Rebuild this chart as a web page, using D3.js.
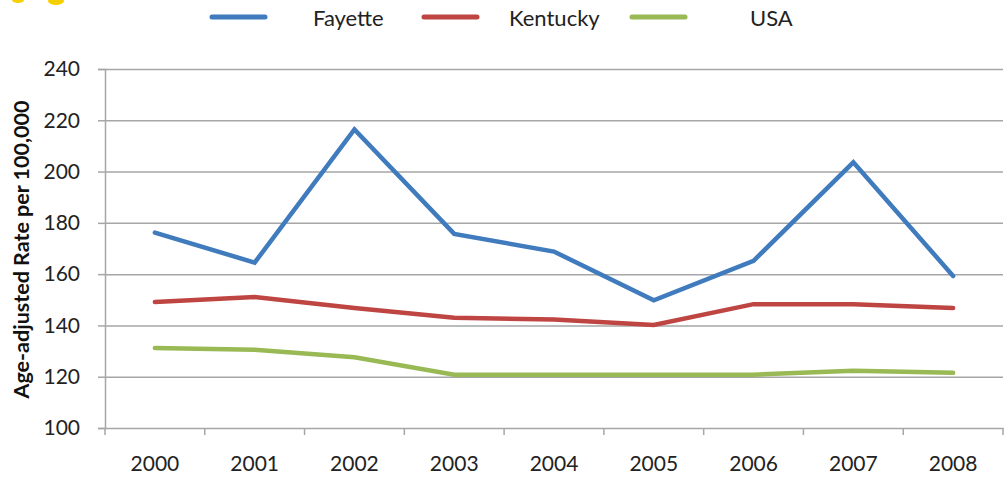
<!DOCTYPE html>
<html><head><meta charset="utf-8">
<script src="https://cdn.jsdelivr.net/npm/d3@7"></script>
<style>body{margin:0;background:#fff}svg{display:block}</style>
</head><body>
<script>
const years = ["2000","2001","2002","2003","2004","2005","2006","2007","2008"];
const fayette = [176.2, 164.5, 216.4, 175.7, 168.8, 149.8, 165.2, 203.6, 159.3];
const kentucky = [149.1, 151.1, 146.8, 143.0, 142.3, 140.2, 148.3, 148.3, 146.8];
const usa = [131.2, 130.5, 127.6, 120.8, 120.8, 120.8, 120.8, 122.3, 121.5];
const yTicks = [100,120,140,160,180,200,220,240];
const seriesNames = ["Fayette","Kentucky","USA"];
const colors = ["#3f7bbd","#be4542","#98b954"];

const W=1008,H=479;
const svg=d3.select("body").append("svg").attr("width",W).attr("height",H);
const font="Lato, 'Open Sans', sans-serif";
const L=105,R=1003,T=69,B=428;
const x=d3.scaleBand().domain(years).range([L,R]);
const y=d3.scaleLinear().domain([100,240]).range([B,T]);

// decoration top-left
svg.append("ellipse").attr("cx",18).attr("cy",0).attr("rx",6).attr("ry",3).attr("fill","#f5d000");
svg.append("ellipse").attr("cx",56).attr("cy",1).attr("rx",8).attr("ry",4).attr("fill","#f5d000");

// gridlines
svg.append("g").selectAll("line").data(yTicks.slice(1)).join("line")
  .attr("x1",L).attr("x2",R).attr("y1",d=>y(d)+0.5).attr("y2",d=>y(d)+0.5)
  .attr("stroke","#a6a6a6").attr("stroke-width",1.5);

// y axis
const ya=svg.append("g").attr("transform",`translate(${L},0)`)
  .call(d3.axisLeft(y).tickValues(yTicks).tickSize(7).tickPadding(18));
ya.select(".domain").attr("stroke","#a6a6a6").attr("stroke-width",1.5);
ya.selectAll(".tick line").attr("stroke","#a6a6a6").attr("stroke-width",1.5);
ya.selectAll("text").attr("font-family",font).attr("font-size",21).attr("fill","#222");

// x axis
const xa=svg.append("g").attr("transform",`translate(0,${B})`)
  .call(d3.axisBottom(x).tickSize(0).tickPadding(28));
xa.select(".domain").attr("stroke","#a6a6a6").attr("stroke-width",1.5);
xa.selectAll("text").attr("font-family",font).attr("font-size",21).attr("fill","#222");
svg.append("g").selectAll("line").data(years.concat(["end"])).join("line")
  .attr("x1",(d,i)=>L+i*x.step()).attr("x2",(d,i)=>L+i*x.step())
  .attr("y1",B).attr("y2",B+7).attr("stroke","#a6a6a6").attr("stroke-width",1.5);

// y title
svg.append("text").attr("transform",`translate(29,${(T+B)/2+1}) rotate(-90)`)
  .attr("text-anchor","middle").attr("font-family",font).attr("font-weight","bold")
  .attr("font-size",21.5).attr("fill","#111").text("Age-adjusted Rate  per 100,000");

// lines
const data=[fayette,kentucky,usa];
const line=d3.line().x((d,i)=>x(years[i])+x.bandwidth()/2).y(d=>y(d));
svg.append("g").selectAll("path").data(data).join("path")
  .attr("d",line).attr("fill","none").attr("stroke",(d,i)=>colors[i])
  .attr("stroke-width",4.5).attr("stroke-linejoin","miter").attr("stroke-linecap","round");

// legend
const legX=[212,424,632], legTX=[313,509,750];
const lg=svg.append("g");
seriesNames.forEach((n,i)=>{
  lg.append("line").attr("x1",legX[i]).attr("x2",legX[i]+53).attr("y1",17).attr("y2",17)
    .attr("stroke",colors[i]).attr("stroke-width",5).attr("stroke-linecap","round");
  lg.append("text").attr("x",legTX[i]).attr("y",26).attr("font-family",font)
    .attr("font-size",22).attr("fill","#222").text(n);
});
</script>
</body></html>
